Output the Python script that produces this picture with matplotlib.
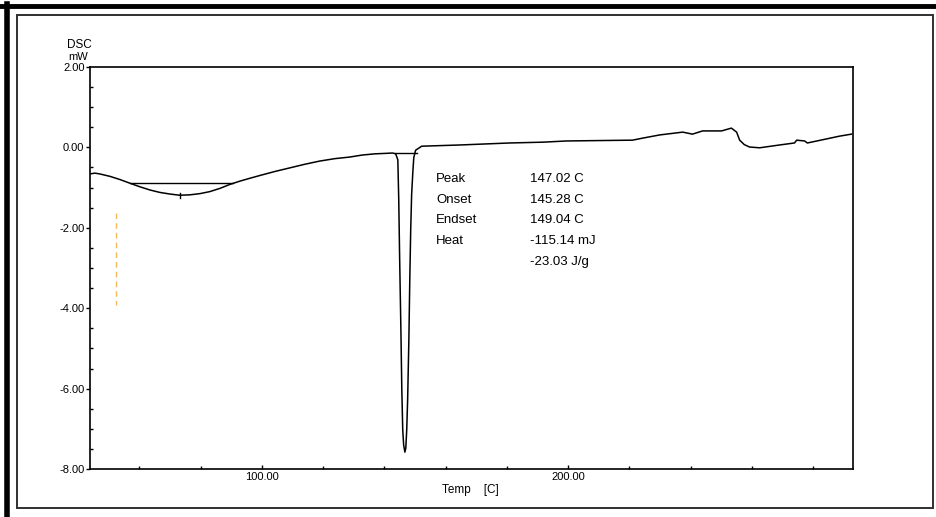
import matplotlib.pyplot as plt
from matplotlib.lines import Line2D
from matplotlib.patches import Rectangle
from matplotlib.ticker import MultipleLocator, FixedLocator

plt.rcParams['font.family'] = ['Liberation Sans', 'DejaVu Sans']

# DSC trace: temperature [C] and heat flow [mW]
temp = [43.9, 45.5, 47.1, 50.4, 53.7, 56.9, 60.2, 63.5, 66.7, 70.0, 73.2, 76.5, 79.8,
        83.0, 86.3, 89.6, 92.8, 96.0, 99.3, 104.2, 109.1, 114.0, 118.9, 123.8, 128.7,
        132.8, 136.9, 140.0, 142.7, 143.7, 144.4, 144.7, 145.0, 145.4, 145.7, 146.0,
        146.3, 146.7, 147.0, 147.3, 147.6, 148.0, 148.3, 148.6, 148.9, 149.3, 149.6,
        150.2, 152.2, 164.6, 180.9, 191.7, 199.5, 210.0, 221.0, 224.3, 229.9, 237.4,
        240.6, 243.9, 250.1, 253.3, 255.0, 256.0, 257.5, 259.2, 262.5, 269.0, 273.9,
        274.6, 277.2, 278.1, 284.3, 288.6, 292.5]
dsc = [-0.66, -0.64, -0.66, -0.72, -0.80, -0.89, -0.98, -1.06, -1.12, -1.16, -1.19, -1.18, -1.15,
       -1.10, -1.02, -0.92, -0.84, -0.77, -0.70, -0.60, -0.51, -0.42, -0.34, -0.28, -0.24,
       -0.19, -0.16, -0.15, -0.14, -0.16, -0.31, -1.31, -2.80, -4.54, -6.03, -7.03,
       -7.40, -7.58, -7.48, -7.03, -6.28, -4.79, -3.30, -2.06, -1.18, -0.61, -0.26,
       -0.07, 0.03, 0.06, 0.11, 0.13, 0.16, 0.17, 0.18, 0.23, 0.31, 0.38,
       0.33, 0.41, 0.41, 0.48, 0.38, 0.18, 0.07, 0.01, -0.01, 0.06, 0.11,
       0.18, 0.16, 0.11, 0.21, 0.28, 0.33]

# integration baselines
base1_t = [56.9, 90.5]
base1_v = [-0.89, -0.89]
base2_t = [143.5, 150.5]
base2_v = [-0.13, -0.13]
min1_t = 73.2
min1_v = -1.19

# orange cursor mark
cursor_t = 52.4
cursor_v = [-1.63, -3.92]

ann_labels = ['Peak', 'Onset', 'Endset', 'Heat', '']
ann_values = ['147.02 C', '145.28 C', '149.04 C', '-115.14 mJ', '-23.03 J/g']

W, H = 936, 517
fig = plt.figure(figsize=(W / 100, H / 100), dpi=100)
ax = fig.add_axes([90 / W, 1 - 469 / H, (853 - 90) / W, (469 - 67) / H])

ax.plot(temp, dsc, color='black', lw=1.1)
ax.plot(base1_t, base1_v, color='black', lw=1.0)
ax.plot(base2_t, base2_v, color='black', lw=1.0)
ax.plot([min1_t, min1_t], [min1_v - 0.06, min1_v + 0.06], color='black', lw=1.0)
ax.plot([cursor_t, cursor_t], cursor_v, color='#f5b95a', lw=1.0, ls=(0, (4, 3)))

ax.set_xlim(43.9, 293)
ax.set_ylim(-8.0, 2.0)
ax.xaxis.set_major_locator(FixedLocator([100, 200]))
ax.xaxis.set_minor_locator(FixedLocator([60, 80, 120, 140, 160, 180, 220, 240, 260, 280]))
ax.set_xticklabels(['100.00', '200.00'])
ax.yaxis.set_major_locator(MultipleLocator(2))
ax.yaxis.set_minor_locator(MultipleLocator(0.5))
ax.yaxis.set_major_formatter(lambda v, p: '%.2f' % v)
ax.tick_params(axis='x', which='major', direction='in', length=3, width=1, labelsize=8, pad=2)
ax.tick_params(axis='x', which='minor', direction='in', length=2, width=1)
ax.tick_params(axis='y', which='major', direction='out', length=3, width=1, labelsize=8, pad=1)
ax.tick_params(axis='y', which='minor', direction='in', length=2, width=1)
for s in ax.spines.values():
    s.set_linewidth(1.2)

def px(x, y):
    return x / W, 1 - y / H

fig.text(*px(79, 45), 'DSC', fontsize=8.5, ha='center', va='center')
fig.text(*px(78, 57), 'mW', fontsize=8, ha='center', va='center')
fig.text(*px(470, 490), 'Temp    [C]', fontsize=8.5, ha='center', va='center')

rows = [179, 200, 220, 241, 262]
for lab, val, yy in zip(ann_labels, ann_values, rows):
    fig.text(*px(436, yy), lab, fontsize=9.5, ha='left', va='center')
    fig.text(*px(530, yy), val, fontsize=9.5, ha='left', va='center')

# frames
fig.add_artist(Rectangle(px(17, 508), (933 - 17) / W, (508 - 15) / H, fill=False,
                         edgecolor='#303030', lw=1.4, transform=fig.transFigure))
fig.add_artist(Line2D([0, 1], [1 - 5.5 / H, 1 - 5.5 / H], color='black', lw=3.5,
                      transform=fig.transFigure))
fig.add_artist(Line2D([7.5 / W, 7.5 / W], [0, 1 - 4 / H], color='black', lw=4,
                      transform=fig.transFigure))

fig.savefig('out.png', dpi=100)
